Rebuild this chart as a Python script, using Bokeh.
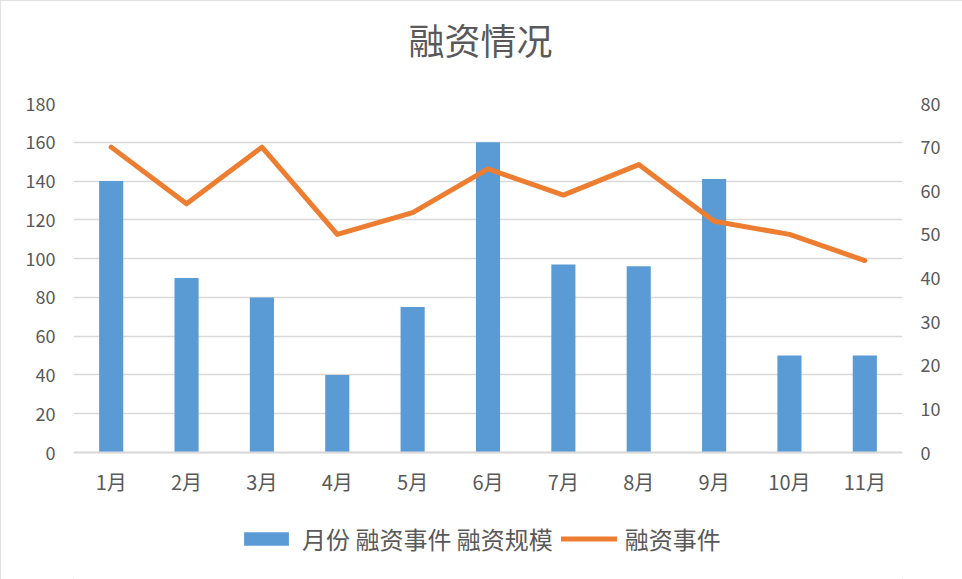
from bokeh.plotting import figure
from bokeh.models import (ColumnDataSource, Range1d, LinearAxis, FactorRange,
                          Legend, LegendItem, FixedTicker, Title)
from bokeh.embed import file_html
from bokeh.resources import INLINE

months = ["1月", "2月", "3月", "4月", "5月", "6月", "7月", "8月", "9月", "10月", "11月"]
scale_values = [140, 90, 80, 40, 75, 160, 97, 96, 141, 50, 50]   # 融资规模 (left axis)
event_values = [70, 57, 70, 50, 55, 65, 59, 66, 53, 50, 44]      # 融资事件 (right axis)
left_ticks = [0, 20, 40, 60, 80, 100, 120, 140, 160, 180]
right_ticks = [0, 10, 20, 30, 40, 50, 60, 70, 80]

TEXT = "#595959"
GRID = "#D9D9D9"
BLUE = "#5B9BD5"
ORANGE = "#ED7D31"
FONT = "Noto Sans CJK SC"

# layout geometry (pixels): plotting band and the strip below it for labels + legend
BAND_H = 349
STRIP_H = 127
left_max = max(left_ticks)
right_max = max(right_ticks)
left_min = -left_max * STRIP_H / BAND_H
right_min = -right_max * STRIP_H / BAND_H

source = ColumnDataSource(dict(month=months, scale=scale_values, events=event_values))

p = figure(frame_width=829, frame_height=BAND_H + STRIP_H, x_range=FactorRange(*months),
           y_range=Range1d(left_min, left_max), output_backend="svg", toolbar_location=None,
           min_border_left=73, min_border_right=60, min_border_top=103, min_border_bottom=0)
p.extra_y_ranges = {"right": Range1d(right_min, right_max)}
p.styles = {"outline": "2px solid #D9D9D9", "outline-offset": "-2px"}

p.outline_line_color = None
p.background_fill_color = "white"
p.border_fill_color = "white"

bars = p.vbar(x="month", top="scale", width=0.32, source=source,
              fill_color=BLUE, line_color=None)
line = p.line(x="month", y="events", source=source, y_range_name="right",
              line_color=ORANGE, line_width=5, line_join="round", line_cap="round")

# grid
p.xgrid.grid_line_color = None
p.ygrid.grid_line_color = GRID
p.ygrid.grid_line_width = 1.5
p.yaxis.ticker = FixedTicker(ticks=left_ticks)

# left axis
ya = p.yaxis[0]
ya.axis_line_color = None
ya.major_tick_line_color = None
ya.minor_tick_line_color = None
ya.major_label_text_color = TEXT
ya.major_label_text_font = FONT
ya.major_label_text_font_size = "18px"
ya.major_label_standoff = 12

# right axis
ra = LinearAxis(y_range_name="right", ticker=FixedTicker(ticks=right_ticks))
ra.axis_line_color = None
ra.major_tick_line_color = None
ra.minor_tick_line_color = None
ra.major_label_text_color = TEXT
ra.major_label_text_font = FONT
ra.major_label_text_font_size = "18px"
ra.major_label_standoff = 12
p.add_layout(ra, "right")

# x axis sits on the value 0
xa = p.xaxis[0]
xa.fixed_location = 0
xa.axis_line_color = GRID
xa.axis_line_width = 2
xa.major_tick_line_color = None
xa.minor_tick_line_color = None
xa.major_label_text_color = TEXT
xa.major_label_text_font = FONT
xa.major_label_text_font_size = "20px"
xa.major_label_standoff = 8

# title (a blank spacer title keeps it up from the plot)
p.title = Title(text="融资情况", align="left", text_font=FONT,
                text_font_size="36px", text_color=TEXT, text_font_style="normal",
                standoff=0, offset=335)
p.add_layout(Title(text=" ", text_font=FONT, text_font_size="16px", standoff=13), "above")

legend = Legend(items=[LegendItem(label="月份 融资事件 融资规模", renderers=[bars]),
                       LegendItem(label="融资事件", renderers=[line])],
                orientation="horizontal", location=(165, 23),
                glyph_width=56, glyph_height=17, label_standoff=8, spacing=8,
                label_text_font=FONT, label_text_font_size="24px",
                label_text_color=TEXT, border_line_color=None,
                background_fill_alpha=0, margin=0, padding=4)
p.add_layout(legend, "center")

open("out.html", "w").write(file_html(p, INLINE))
